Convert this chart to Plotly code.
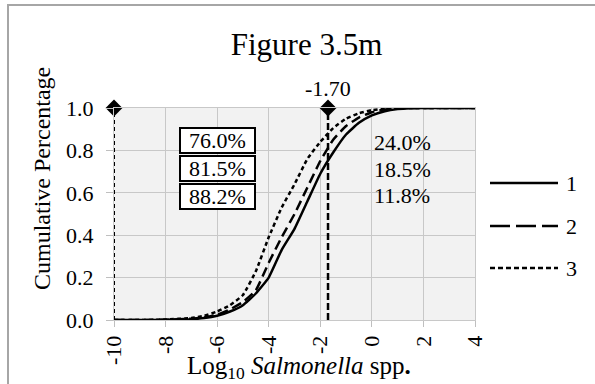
import plotly.graph_objects as go

# Data
x_vals = [-10, -9, -8, -7, -6.5, -6, -5.5, -5, -4.5, -4, -3.5, -3, -2.5, -2, -1.5, -1, -0.5, 0, 0.5, 1, 1.5, 2, 3, 4]
curve_1 = [0, 0, 0.001, 0.004, 0.009, 0.02, 0.04, 0.07, 0.125, 0.2, 0.33, 0.43, 0.56, 0.69, 0.79, 0.875, 0.93, 0.965, 0.985, 0.995, 0.999, 1, 1, 1]
curve_2 = [0, 0, 0.001, 0.006, 0.012, 0.025, 0.05, 0.085, 0.14, 0.27, 0.39, 0.5, 0.625, 0.75, 0.85, 0.915, 0.955, 0.98, 0.993, 0.998, 1, 1, 1, 1]
curve_3 = [0, 0, 0.002, 0.01, 0.02, 0.04, 0.07, 0.118, 0.23, 0.39, 0.53, 0.64, 0.76, 0.84, 0.905, 0.95, 0.975, 0.99, 0.997, 1, 1, 1, 1, 1]
series_names = ["1", "2", "3"]

x_tickvals = [-10, -8, -6, -4, -2, 0, 2, 4]
x_ticktext = ["-10", "-8", "-6", "-4", "-2", "0", "2", "4"]
y_tickvals = [0, 0.2, 0.4, 0.6, 0.8, 1.0]
y_ticktext = ["0.0", "0.2", "0.4", "0.6", "0.8", "1.0"]

ref_x_lines = [-10, -1.70]
ref_label = "-1.70"
below_pct = ["76.0%", "81.5%", "88.2%"]
above_pct = ["24.0%", "18.5%", "11.8%"]

FONT = "Liberation Serif"

# layout constants (pixels)
W, H = 595, 384
ML, MR, MT, MB = 114, 10, 108, 64
PW = W - ML - MR
PH = H - MT - MB
plot_right = 475
def px_x(p):
    return (p - ML) / PW
def px_y(p):
    return (H - MB - p) / PH

fig = go.Figure()

curve_dash = ["solid", "10px,5px", "4px,3px"]
legend_dash = ["solid", "20px,6px", "5px,3px"]
for ys, name, dash in zip([curve_1, curve_2, curve_3], series_names, curve_dash):
    fig.add_trace(go.Scatter(
        x=x_vals, y=ys, mode="lines", name=name, showlegend=False,
        line=dict(color="black", width=2.5, dash=dash, shape="spline", smoothing=0.4),
    ))

# vertical reference lines with diamond markers on top
fig.add_trace(go.Scatter(x=[ref_x_lines[0], ref_x_lines[0]], y=[0, 1], mode="lines",
                         line=dict(color="black", width=2, dash="4px,3px"), showlegend=False))
fig.add_trace(go.Scatter(x=[ref_x_lines[1], ref_x_lines[1]], y=[0, 1], mode="lines",
                         line=dict(color="black", width=2.5, dash="7px,3px"), showlegend=False))
fig.add_trace(go.Scatter(x=ref_x_lines, y=[1, 1], mode="markers",
                         marker=dict(symbol="diamond", size=13, color="black"),
                         showlegend=False, cliponaxis=False))

# hand-made legend on a second pair of axes placed in the right margin
legend_rows = [px_y(183), px_y(226), px_y(268)]
annotations = []
for name, dash, ly in zip(series_names, legend_dash, legend_rows):
    fig.add_trace(go.Scatter(x=[0, 1], y=[ly, ly], mode="lines", xaxis="x2", yaxis="y2",
                             line=dict(color="black", width=2.5, dash=dash), showlegend=False,
                             hoverinfo="skip"))
    annotations.append(dict(x=1, y=ly, xref="x2", yref="y2", text=name, showarrow=False,
                            xanchor="left", yanchor="middle", xshift=6,
                            font=dict(family=FONT, size=22, color="black")))

box_y = [0.849, 0.717, 0.583]
for t, yv in zip(below_pct, box_y):
    annotations.append(dict(x=-6, y=yv, xref="x", yref="y", text=t, showarrow=False,
                            font=dict(family=FONT, size=22, color="black"),
                            bgcolor="white", bordercolor="black", borderwidth=2, borderpad=1,
                            width=71, height=21))
right_y = [0.835, 0.708, 0.585]
for t, yv in zip(above_pct, right_y):
    annotations.append(dict(x=0, y=yv, xref="x", yref="y", text=t, showarrow=False,
                            xanchor="left", font=dict(family=FONT, size=22, color="black")))
annotations.append(dict(x=ref_x_lines[1], y=1.09, xref="x", yref="paper", text=ref_label,
                        showarrow=False, xanchor="center", yanchor="middle",
                        font=dict(family=FONT, size=22, color="black")))
annotations.append(dict(x=px_x(42), y=px_y(179), xref="paper", yref="paper",
                        text="Cumulative Percentage",
                        textangle=-90, showarrow=False, xanchor="center", yanchor="middle",
                        font=dict(family=FONT, size=24, color="black")))
annotations.append(dict(x=px_x(298.5), y=px_y(367), xref="paper", yref="paper",
                        text="Log<sub>10</sub> <i>Salmonella</i> spp<b>.</b>",
                        showarrow=False, xanchor="center", yanchor="middle",
                        font=dict(family=FONT, size=25, color="black")))

axis_common = dict(ticks="outside", tickcolor="#bfbfbf", gridcolor="#c8c8c8", gridwidth=1,
                   zeroline=False, showline=True, linecolor="#c8c8c8", mirror=True,
                   automargin=False,
                   tickfont=dict(family=FONT, size=22, color="black"))

fig.update_layout(
    width=W, height=H,
    margin=dict(l=ML, r=MR, t=MT, b=MB, autoexpand=False),
    showlegend=False,
    paper_bgcolor="white", plot_bgcolor="white",
    font=dict(family=FONT, color="black"),
    title=dict(text="Figure 3.5m", x=px_x(306.5), xref="paper", xanchor="center",
               y=0.885, yref="container", yanchor="middle",
               font=dict(family=FONT, size=31, color="black")),
    xaxis=dict(range=[-10, 4], domain=[0, px_x(plot_right)], tickvals=x_tickvals,
               ticktext=x_ticktext, tickangle=-90, ticklen=6, **axis_common),
    yaxis=dict(range=[0, 1], tickvals=y_tickvals, ticktext=y_ticktext,
               ticklen=7, ticklabelstandoff=8, **axis_common),
    xaxis2=dict(domain=[px_x(490), px_x(558)], range=[0, 1], visible=False, anchor="y2",
                automargin=False),
    yaxis2=dict(domain=[0, 1], range=[0, 1], visible=False, anchor="x2", automargin=False),
    annotations=annotations,
    shapes=[
        dict(type="rect", xref="x domain", yref="y domain", x0=0, x1=1, y0=0, y1=1,
             line=dict(width=0), fillcolor="#f2f2f2", layer="below"),
        dict(type="rect", xref="paper", yref="paper", x0=px_x(8), x1=2, y0=-1, y1=px_y(5),
             line=dict(color="#a6a6a6", width=2), fillcolor="rgba(0,0,0,0)", layer="below"),
    ],
)

fig.write_html("out.html")
